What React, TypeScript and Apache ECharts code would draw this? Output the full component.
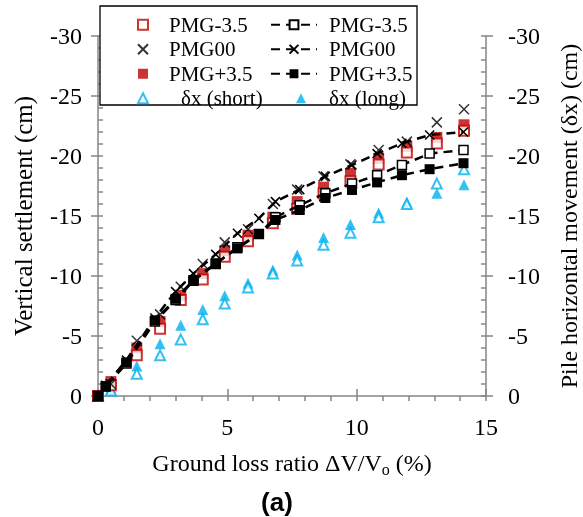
import React, { useEffect, useRef } from 'react';
import * as echarts from 'echarts';

// Ground loss ratio positions of the measured (scatter) series
const scatterX = [0, 0.5, 1.5, 2.4, 3.2, 4.05, 4.9, 5.8, 6.76, 7.7, 8.72, 9.76, 10.85, 11.94, 13.1, 14.15];
const pmgMinusScatter = [0, -0.9, -3.4, -5.6, -8.0, -9.7, -11.6, -12.9, -14.4, -15.6, -16.9, -17.9, -19.3, -20.3, -21.05, -22.1];
const pmg00Scatter = [0, -1.0, -4.6, -6.8, -9.1, -11.0, -12.8, -13.9, -16.0, -17.2, -18.3, -19.3, -20.5, -21.2, -22.8, -23.9];
const pmgPlusScatter = [0, -1.2, -4.0, -6.2, -8.4, -10.2, -12.1, -13.4, -14.9, -16.2, -17.4, -18.55, -19.8, -20.8, -21.55, -22.6];
const dxShort = [0, -0.45, -1.85, -3.4, -4.7, -6.4, -7.7, -9.05, -10.2, -11.3, -12.6, -13.6, -14.9, -16.0, -17.7, -18.9];
const dxLong = [0, -0.65, -2.5, -4.35, -5.9, -7.2, -8.35, -9.4, -10.5, -11.75, -13.2, -14.3, -15.25, -16.15, -16.9, -17.6];

// Dashed-line series
const fitX = [0, 0.3, 1.1, 2.2, 3.0, 3.69, 4.55, 5.39, 6.22, 6.86, 7.8, 8.79, 9.82, 10.79, 11.75, 12.82, 14.13];
const pmgMinusFit = [0, -0.8, -2.7, -6.2, -8.0, -9.6, -11.0, -12.4, -13.5, -14.9, -15.9, -16.9, -17.7, -18.4, -19.25, -20.2, -20.5];
const pmg00Fit = [0, -0.9, -3.0, -6.5, -8.7, -10.2, -11.8, -13.56, -14.8, -16.2, -17.2, -18.3, -19.25, -20.2, -21.05, -21.75, -22.0];
const pmgPlusFit = [0, -0.8, -2.8, -6.3, -8.1, -9.67, -11.06, -12.3, -13.5, -14.67, -15.5, -16.5, -17.17, -17.8, -18.4, -18.9, -19.4];

const leftLegendNames = ['PMG-3.5', 'PMG00', 'PMG+3.5'];
const leftLegendLast = ['δx (short)'];
const rightLegendNames = ['PMG-3.5 fit', 'PMG00 fit', 'PMG+3.5 fit'];
const rightLegendLast = ['δx (long)'];

const xTitle = 'Ground loss ratio ΔV/V{sub|o} (%)';
const yLeftTitle = 'Vertical settlement (cm)';
const yRightTitle = 'Pile horizontal movement (δx) (cm)';
const panelLabel = '(a)';

export default function App() {
  const ref = useRef<HTMLDivElement>(null);
  useEffect(() => {
    const chart = echarts.init(ref.current!, null, { renderer: 'svg' });
    const pair = (xs: number[], ys: number[]) => xs.map((x, i) => [x, ys[i]]);
    const serif = '"Liberation Serif", "Times New Roman", serif';
    const axisColor = '#868686';
    const RED = '#c00000';
    const CYAN = '#00b0f0';
    const cross = 'path://M0,0L10,10M10,0L0,10';
    const fontSize = 24;
    const legendText = { fontFamily: serif, fontSize: 21, color: '#000', lineHeight: 23.5 };
    const rowStep = 24.5;
    const legendTop = 8;

    const yBase = {
      type: 'value' as const,
      min: -30,
      max: 0,
      inverse: true,
      splitLine: { show: false },
    };
    // overlay axis carrying only the small (1 cm) ticks, pointing into the plot
    const minorY = {
      ...yBase,
      interval: 1,
      axisLine: { show: false },
      axisLabel: { show: false },
      axisTick: { show: true, inside: true, length: 5, lineStyle: { color: axisColor, width: 1.5 } },
    };
    const majorY = (margin: number) => ({
      ...yBase,
      interval: 5,
      axisLine: { show: true, lineStyle: { color: axisColor, width: 1.5 } },
      axisTick: { show: true, inside: false, length: 7, lineStyle: { color: axisColor, width: 1.5 } },
      axisLabel: { margin, color: '#000', fontFamily: serif, fontSize },
    });
    const fitLine = { color: '#000', width: 2.5, type: [9, 6] as number[] };
    const legendBase = {
      orient: 'vertical' as const,
      itemGap: 1,
      selectedMode: false,
    };

    chart.setOption({
      animation: false,
      textStyle: { fontFamily: serif },
      grid: { left: 98, right: 97, top: 36, bottom: 121, containLabel: false, outerBoundsMode: 'none' },
      xAxis: [
        {
          type: 'value',
          min: 0,
          max: 15,
          interval: 5,
          splitLine: { show: false },
          axisLine: { lineStyle: { color: axisColor, width: 1.5 } },
          axisTick: { inside: true, length: 7, lineStyle: { color: axisColor, width: 1.5 } },
          axisLabel: { margin: 19, color: '#000', fontFamily: serif, fontSize },
          name: xTitle,
          nameLocation: 'middle',
          nameGap: 53,
          nameTextStyle: {
            color: '#000',
            fontFamily: serif,
            fontSize,
            rich: { sub: { fontFamily: serif, fontSize: 16, color: '#000', padding: [12, 0, 0, 0] } },
          },
        },
        {
          type: 'value',
          min: 0,
          max: 15,
          interval: 1,
          position: 'bottom',
          splitLine: { show: false },
          axisLine: { show: false },
          axisLabel: { show: false },
          axisTick: { show: true, inside: false, length: 5, lineStyle: { color: axisColor, width: 1.5 } },
        },
      ],
      yAxis: [
        {
          ...majorY(16),
          position: 'left',
          name: yLeftTitle,
          nameLocation: 'middle',
          nameRotate: 90,
          nameGap: 62,
          nameTextStyle: { color: '#000', fontFamily: serif, fontSize: 25 },
        },
        { ...minorY, position: 'left' },
        {
          ...majorY(22),
          position: 'right',
          name: yRightTitle,
          nameLocation: 'middle',
          nameRotate: 90,
          nameGap: 71,
          nameTextStyle: { color: '#000', fontFamily: serif, fontSize: 24 },
        },
        { ...minorY, position: 'right' },
      ],
      legend: [
        {
          ...legendBase,
          left: 132,
          top: legendTop,
          itemWidth: 10,
          itemHeight: 10,
          data: leftLegendNames,
          textStyle: { ...legendText, padding: [0, 0, 0, 16] },
        },
        {
          ...legendBase,
          left: 132,
          top: legendTop + 3 * rowStep,
          itemWidth: 10,
          itemHeight: 10,
          data: leftLegendLast,
          textStyle: { ...legendText, padding: [0, 0, 0, 28] },
        },
        {
          ...legendBase,
          left: 265,
          top: legendTop,
          itemWidth: 46,
          itemHeight: 11,
          data: rightLegendNames,
          formatter: (n: string) => n.replace(' fit', ''),
          textStyle: { ...legendText, padding: [0, 0, 0, 7] },
        },
        {
          ...legendBase,
          left: 291,
          top: legendTop + 3 * rowStep,
          itemWidth: 10,
          itemHeight: 10,
          data: rightLegendLast,
          textStyle: { ...legendText, padding: [0, 0, 0, 18] },
        },
      ],
      graphic: [
        {
          type: 'rect',
          z: 3,
          shape: { x: 100, y: 6, width: 317, height: 99 },
          style: { fill: '#fff', stroke: '#000', lineWidth: 1.3 },
        },
        {
          type: 'text',
          x: 277,
          y: 502,
          style: {
            text: panelLabel,
            align: 'center',
            verticalAlign: 'middle',
            fontFamily: '"Liberation Sans", Arial, sans-serif',
            fontWeight: 'bold',
            fontSize: 26,
            fill: '#000',
          },
        },
      ],
      series: [
        {
          name: 'PMG-3.5 fit',
          type: 'line',
          data: pair(fitX, pmgMinusFit),
          lineStyle: fitLine,
          symbol: 'rect',
          symbolSize: 9,
          itemStyle: { color: '#fff', borderColor: '#000', borderWidth: 1.5 },
        },
        {
          name: 'PMG00 fit',
          type: 'line',
          data: pair(fitX, pmg00Fit),
          lineStyle: fitLine,
          symbol: cross,
          symbolSize: 9,
          itemStyle: { color: 'rgba(0,0,0,0)', borderColor: '#000', borderWidth: 1.5 },
        },
        {
          name: 'PMG+3.5 fit',
          type: 'line',
          data: pair(fitX, pmgPlusFit),
          lineStyle: fitLine,
          symbol: 'rect',
          symbolSize: 10,
          itemStyle: { color: '#000', borderColor: '#000', borderWidth: 0 },
        },
        {
          name: 'δx (long)',
          type: 'scatter',
          yAxisIndex: 2,
          data: pair(scatterX, dxLong),
          symbol: 'triangle',
          symbolSize: 11,
          itemStyle: { color: CYAN },
        },
        {
          name: 'δx (short)',
          type: 'scatter',
          yAxisIndex: 2,
          data: pair(scatterX, dxShort),
          symbol: 'triangle',
          symbolSize: 10,
          itemStyle: { color: '#fff', borderColor: CYAN, borderWidth: 2 },
        },
        {
          name: 'PMG+3.5',
          type: 'scatter',
          data: pair(scatterX, pmgPlusScatter),
          symbol: 'rect',
          symbolSize: 11,
          itemStyle: { color: RED },
        },
        {
          name: 'PMG-3.5',
          type: 'scatter',
          data: pair(scatterX, pmgMinusScatter),
          symbol: 'rect',
          symbolSize: 10,
          itemStyle: { color: '#fff', borderColor: RED, borderWidth: 2 },
        },
        {
          name: 'PMG00',
          type: 'scatter',
          data: pair(scatterX, pmg00Scatter),
          symbol: cross,
          symbolSize: 10,
          itemStyle: { color: 'rgba(0,0,0,0)', borderColor: '#000', borderWidth: 1.5 },
        },
      ],
    });
    return () => chart.dispose();
  }, []);
  return <div ref={ref} style={{ position: 'fixed', left: 0, top: 0, width: 583, height: 517 }} />;
}
